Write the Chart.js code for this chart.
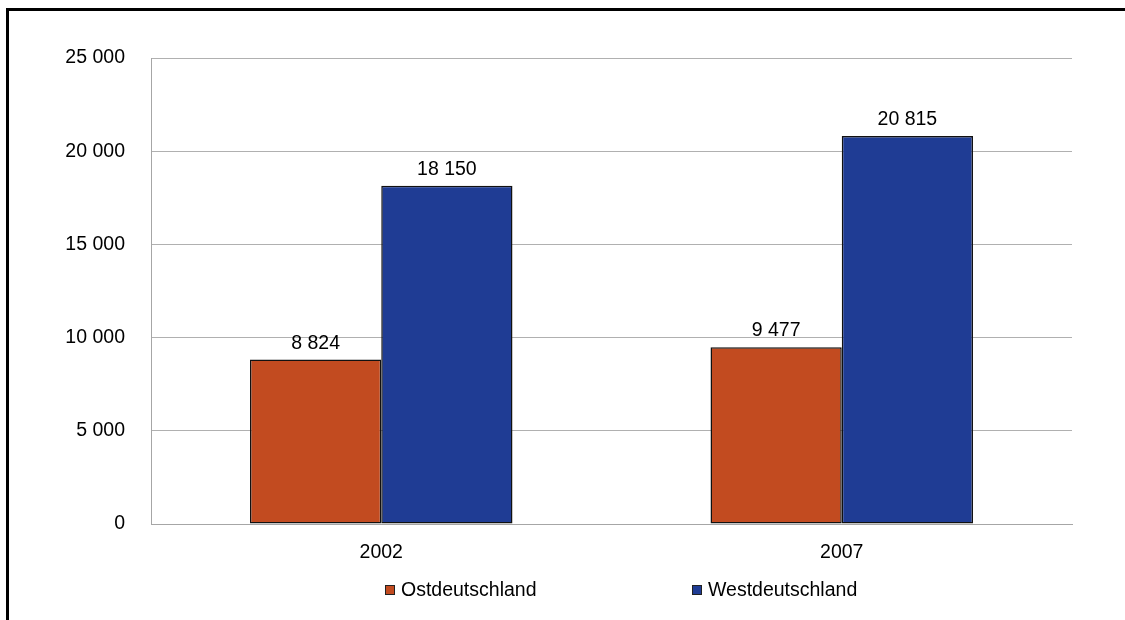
<!DOCTYPE html>
<html>
<head>
<meta charset="utf-8">
<script src="https://cdn.jsdelivr.net/npm/chart.js@4"></script>
<style>
  body { margin: 0; background: #fff; }
  #wrap { width: 1125px; height: 620px; }
</style>
</head>
<body>
<div id="wrap"><canvas id="grafico" width="1125" height="620"></canvas></div>
<script>
// Daten
const jahre = ['2002', '2007'];
const ostWerte = [8824, 9477];
const westWerte = [18150, 20815];
const serienNamen = ['Ostdeutschland', 'Westdeutschland'];
const farben = ['#c24b20', '#1f3c94'];
const yTicks = [0, 5000, 10000, 15000, 20000, 25000];

const schrift = "'Liberation Sans', Arial, sans-serif";
const groesse = 19.5;

function formatZahl(v) {
    return String(v).replace(/\B(?=(\d{3})+(?!\d))/g, ' ');
}

// Werte ueber den Balken, Rahmen und Legende
const extras = {
    id: 'extras',
    afterDatasetsDraw(chart) {
        const c = chart.ctx;
        c.save();
        c.font = groesse + 'px ' + schrift;
        c.fillStyle = '#000';
        c.textAlign = 'center';
        c.textBaseline = 'alphabetic';
        chart.data.datasets.forEach((ds, i) => {
            chart.getDatasetMeta(i).data.forEach((bar, j) => {
                c.fillText(formatZahl(ds.data[j]), bar.x, bar.y - 11);
            });
        });
        c.restore();
    },
    afterDraw(chart) {
        const c = chart.ctx;
        c.save();
        // Rahmen
        c.strokeStyle = '#000';
        c.lineWidth = 3;
        c.beginPath();
        c.moveTo(7.5, 640);
        c.lineTo(7.5, 9.5);
        c.lineTo(1140, 9.5);
        c.stroke();
        // Legende
        const pos = [385, 692];
        c.font = groesse + 'px ' + schrift;
        c.textBaseline = 'middle';
        c.textAlign = 'left';
        chart.data.datasets.forEach((ds, i) => {
            const x = pos[i], y = 590;
            c.fillStyle = ds.backgroundColor;
            c.fillRect(x, y - 5, 10, 10);
            c.strokeStyle = '#222';
            c.lineWidth = 1;
            c.strokeRect(x + 0.5, y - 4.5, 9, 9);
            c.fillStyle = '#000';
            c.fillText(ds.label, x + 16, y + 1);
        });
        c.restore();
    }
};

new Chart(document.getElementById('grafico'), {
    type: 'bar',
    data: {
        labels: jahre,
        datasets: [{
            label: serienNamen[0],
            data: ostWerte,
            backgroundColor: farben[0],
            borderColor: '#111',
            borderWidth: 1.5,
            borderSkipped: false
        }, {
            label: serienNamen[1],
            data: westWerte,
            backgroundColor: farben[1],
            borderColor: '#111',
            borderWidth: 1.5,
            borderSkipped: false
        }]
    },
    options: {
        responsive: false,
        animation: false,
        categoryPercentage: 0.57,
        barPercentage: 1,
        layout: {
            padding: { left: 0, top: 58, right: 53, bottom: 0 }
        },
        scales: {
            x: {
                grid: { display: false, drawTicks: false },
                border: { color: '#a6a6a6', width: 1 },
                ticks: {
                    color: '#000',
                    font: { family: schrift, size: groesse },
                    padding: 17
                },
                afterFit(scale) { scale.height = 96; }
            },
            y: {
                min: 0,
                max: 25000,
                afterBuildTicks(scale) {
                    scale.ticks = yTicks.map(v => ({ value: v }));
                },
                grid: { color: '#b0b0b0', lineWidth: 1, drawTicks: false },
                border: { color: '#a6a6a6', width: 1 },
                ticks: {
                    color: '#000',
                    font: { family: schrift, size: groesse },
                    padding: 26,
                    callback: v => formatZahl(v)
                },
                afterFit(scale) { scale.width = 151; }
            }
        },
        plugins: {
            legend: { display: false },
            tooltip: { enabled: false }
        }
    },
    plugins: [extras]
});
</script>
</body>
</html>
